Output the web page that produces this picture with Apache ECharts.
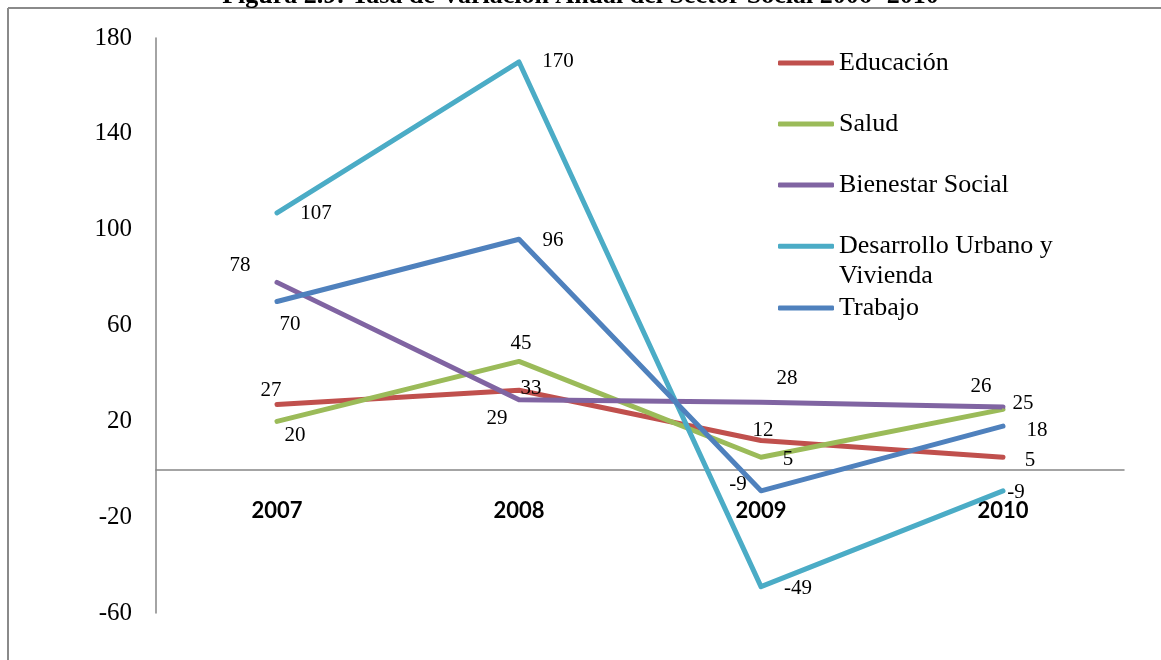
<!DOCTYPE html>
<html>
<head>
<meta charset="utf-8">
<script src="https://cdn.jsdelivr.net/npm/echarts@6/dist/echarts.min.js"></script>
<style>
  html, body { margin: 0; padding: 0; background: #ffffff; }
  #chart { width: 1161px; height: 660px; }
</style>
</head>
<body>
<div id="chart"></div>
<script>
// Annual variation rate (%) by social-sector area
const years = ['2007', '2008', '2009', '2010'];
const educacion = [27, 33, 12, 5];
const salud = [20, 45, 5, 25];
const bienestar = [78, 29, 28, 26];
const desarrollo = [107, 170, -49, -9];
const trabajo = [70, 96, -9, 18];

const yMin = -60, yMax = 180, yStep = 40;

const titleText = 'Figura 2.9: Tasa de Variación Anual del Sector Social 2006 -2010';

// Pixel nudges for each value label, relative to its point
const educacionLabelShift = [[-6, -14], [12, -2], [2, -10], [27, 3]];
const saludLabelShift = [[18, 14], [2, -18], [27, 2], [20, -6]];
const bienestarLabelShift = [[-37, -17], [-22, 19], [26, -24], [-22, -20]];
const desarrolloLabelShift = [[39, 1], [39, 0], [37, 2], [13, 2]];
const trabajoLabelShift = [[13, 23], [34, 1], [-23, -6], [34, 4]];

const serif = '"Liberation Serif", "Times New Roman", serif';

const seriesDefs = [
  { name: 'Educación', values: educacion, color: '#C0504D', shift: educacionLabelShift, legendY: 63 },
  { name: 'Salud', values: salud, color: '#9BBB59', shift: saludLabelShift, legendY: 124 },
  { name: 'Bienestar Social', values: bienestar, color: '#8064A2', shift: bienestarLabelShift, legendY: 185 },
  { name: 'Desarrollo Urbano y Vivienda', values: desarrollo, color: '#4BACC6', shift: desarrolloLabelShift, legendY: 247, wrap: true },
  { name: 'Trabajo', values: trabajo, color: '#4F81BD', shift: trabajoLabelShift, legendY: 308 }
];

const series = seriesDefs.map(d => ({
  name: d.name,
  type: 'line',
  data: d.values.map((v, i) => ({
    value: v,
    label: { offset: d.shift[i] }
  })),
  color: d.color,
  symbol: 'circle',
  symbolSize: 2,
  showSymbol: true,
  itemStyle: { color: d.color },
  lineStyle: { width: 5, color: d.color, cap: 'round', join: 'round' },
  label: {
    show: true,
    position: 'inside',
    color: '#000',
    fontFamily: serif,
    fontSize: 21
  },
  emphasis: { disabled: true },
  animation: false
}));

// One legend block per series so every entry sits at its own height;
// the wrapped entry keeps its swatch level with the first text line.
const legends = seriesDefs.map(d => ({
  data: [d.name],
  orient: 'vertical',
  left: 778,
  top: d.wrap ? d.legendY - 45 : d.legendY - 15,
  padding: 0,
  icon: 'roundRect',
  itemWidth: 56,
  itemHeight: 5,
  selectedMode: false,
  itemStyle: { borderWidth: 0 },
  formatter: d.wrap ? () => ' \nDesarrollo Urbano y\nVivienda' : '{name}',
  textStyle: {
    fontFamily: serif,
    fontSize: 26,
    lineHeight: d.wrap ? 29.5 : 30,
    color: '#000'
  }
}));

const chart = echarts.init(document.getElementById('chart'), null, { renderer: 'canvas' });
chart.setOption({
  backgroundColor: '#ffffff',
  animation: false,
  title: {
    text: titleText,
    left: 'center',
    top: -17,
    padding: 0,
    textStyle: { fontFamily: serif, fontSize: 26, fontWeight: 'bold', color: '#000' }
  },
  legend: legends,
  grid: { left: 156, right: 37, top: 38, bottom: 47, containLabel: false, outerBoundsMode: 'none' },
  xAxis: {
    type: 'category',
    data: years,
    boundaryGap: true,
    axisLine: { onZero: true, lineStyle: { color: '#868686', width: 1.5 } },
    axisTick: { show: false },
    axisLabel: {
      margin: -113,
      fontFamily: 'Lato, "Open Sans", sans-serif',
      fontWeight: 'bold',
      fontSize: 22,
      color: '#000'
    },
    splitLine: { show: false }
  },
  yAxis: {
    type: 'value',
    min: yMin,
    max: yMax,
    interval: yStep,
    axisLine: { show: true, lineStyle: { color: '#868686', width: 1.5 } },
    axisTick: { show: false },
    axisLabel: { margin: 24, padding: [6, 0, 0, 0], fontFamily: serif, fontSize: 25, color: '#000' },
    splitLine: { show: false }
  },
  graphic: [
    { type: 'line', shape: { x1: 8, y1: 8, x2: 1161, y2: 8 }, style: { stroke: '#8a8a8a', lineWidth: 2 }, silent: true },
    { type: 'line', shape: { x1: 8, y1: 8, x2: 8, y2: 660 }, style: { stroke: '#8a8a8a', lineWidth: 2 }, silent: true }
  ],
  series: series
});
</script>
</body>
</html>
